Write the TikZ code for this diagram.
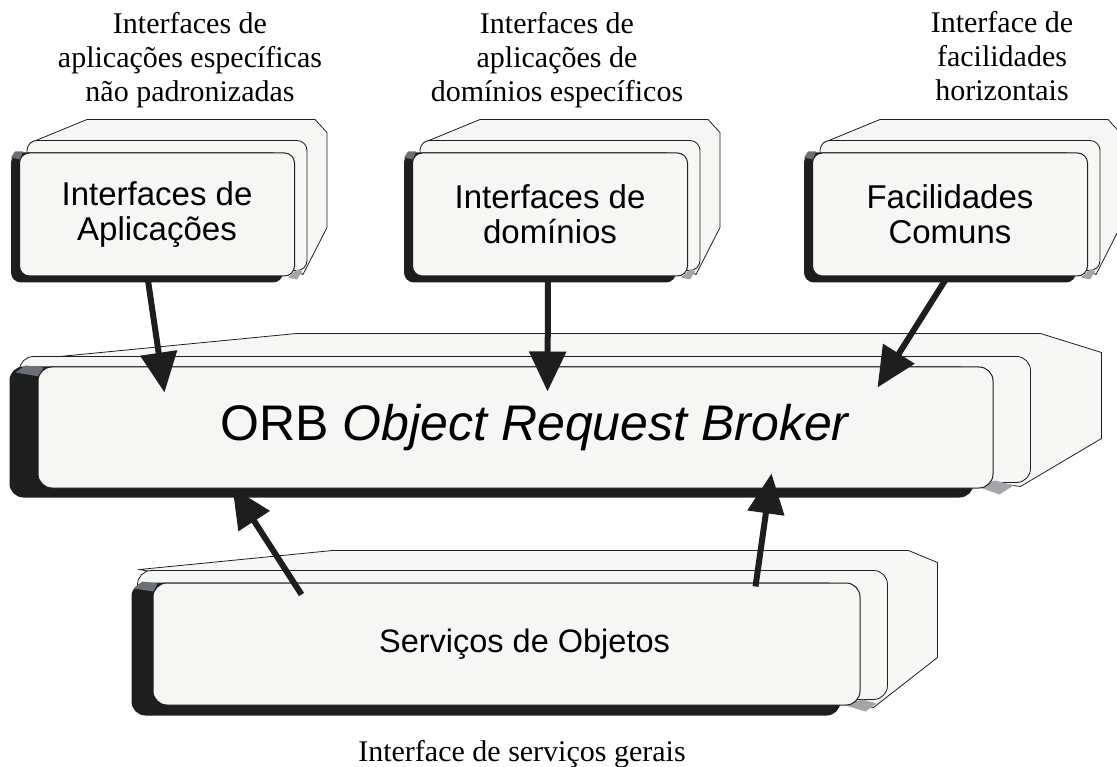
\documentclass[tikz,border=0pt]{standalone}
\usepackage{fontspec}
\setmainfont{Liberation Serif}
\setsansfont{Liberation Sans}
\usetikzlibrary{arrows.meta,calc,backgrounds}

\definecolor{boxfill}{HTML}{F6F6F4}
\definecolor{edgeink}{HTML}{1E1E1E}
\definecolor{cornergray}{HTML}{6B7076}
\definecolor{cornerlight}{HTML}{A3A5AB}

\tikzset{
  stackface/.style  = {draw=edgeink, fill=boxfill, line width=1pt, rounded corners=10pt,
                       inner sep=0pt, minimum width=275pt, minimum height=123pt, align=center,
                       font=\sffamily\fontsize{33}{35}\selectfont},
  stacklayer/.style = {draw=edgeink, fill=boxfill, line width=0.8pt},
  darkedge/.style   = {fill=edgeink},
  boxtext/.style    = {inner sep=0pt, align=center, font=\sffamily\fontsize{32.5}{35}\selectfont},
  tag/.style        = {inner sep=0pt, align=center, font=\fontsize{30}{34}\selectfont},
  pointer/.style    = {draw=edgeink, line width=6pt, -{Triangle[length=40pt,width=36pt]}}
}

\begin{document}
\begin{tikzpicture}[x=1pt, y=-1pt]
\useasboundingbox (0,0) rectangle (1117,767);

% texts above and below the boxes
\node[tag] (t-app) at (190,60) {Interfaces de\\aplicações específicas\\não padronizadas};
\node[tag] (t-dom) at (557,60) {Interfaces de\\aplicações de\\domínios específicos};
\node[tag] (t-fac) at (1002,56) {Interface de\\facilidades\\horizontais};
\node[tag, anchor=base] (t-srv) at (522,761) {Interface de serviços gerais};

% the front faces
\node[stackface] (app) at (157,214.5) {Interfaces de\\Aplicações};
\node[stackface] (dom) at (550,214.5) {Interfaces de\\domínios};
\node[stackface] (fac) at (950,214.5) {Facilidades\\Comuns};

\node[stackface, minimum width=955pt, minimum height=121pt, rounded corners=14pt] (orb) at (515.5,427.5) {};
\node[boxtext, font=\sffamily\fontsize{50}{55}\selectfont] (orb-txt) at ($(orb.center)+(20,0)$)
  {ORB \textit{Object Request Broker}};

\node[stackface, minimum width=707pt, minimum height=122pt, rounded corners=14pt] (srv) at (506.5,644) {};
\node[boxtext] (srv-txt) at ($(srv.center)+(18,0)$) {Serviços de Objetos};

% the layers behind each face
\begin{scope}[on background layer]
\foreach \bx in {app,dom,fac}{
  \filldraw[stacklayer] ($(\bx.north west)+(12,-10)$) -- ($(\bx.north west)+(68,-33)$)
    -- ($(\bx.north east)+(20,-33)$) -- ($(\bx.north east)+(32,-20)$)
    -- ($(\bx.south east)+(32,-49)$) -- ($(\bx.south east)+(8,-2)$) -- cycle;
  \filldraw[stacklayer, rounded corners=10pt] ($(\bx.north west)+(8,-12)$) rectangle ($(\bx.south east)+(12,-6)$);
  \fill[darkedge, rounded corners=10pt] ($(\bx.south west)+(-8,6)$) rectangle ($(\bx.north east)+(-12,0)$);
  \fill[cornergray] ($(\bx.north west)+(-8,5)$) -- ($(\bx.north west)+(-4,-1)$)
    -- ($(\bx.north west)+(4,-1)$) -- ($(\bx.north west)+(1,7)$) -- cycle;
  \fill[cornerlight] ($(\bx.south east)+(-7,1)$) -- ($(\bx.south east)+(2,-7)$)
    -- ($(\bx.south east)+(7,-5)$) -- ($(\bx.south east)+(2,3)$) -- cycle;
}

\filldraw[stacklayer] ($(orb.north west)+(22,-10)$) -- ($(orb.north west)+(259,-33)$)
  -- ($(orb.north east)+(47,-33)$) -- ($(orb.north east)+(108,-14)$)
  -- ($(orb.south east)+(108,-50)$) -- ($(orb.south east)+(27,-2)$) -- cycle;
\filldraw[stacklayer, rounded corners=14pt] ($(orb.north west)+(-18,-10)$) rectangle ($(orb.south east)+(37,-6)$);
\fill[darkedge, rounded corners=14pt] ($(orb.south west)+(-28,9)$) rectangle ($(orb.north east)+(-20,0)$);
\fill[cornergray] ($(orb.north west)+(-22,6)$) -- ($(orb.north west)+(-12,-1)$)
  -- ($(orb.north west)+(6,1)$) -- ($(orb.north west)+(2,10)$) -- cycle;
\fill[cornerlight] ($(orb.south east)+(-22,-4)$) -- ($(orb.south east)+(2,-8)$)
  -- ($(orb.south east)+(20,-3)$) -- ($(orb.south east)+(6,6)$) -- cycle;

\filldraw[stacklayer] ($(srv.north west)+(-13,-13)$) -- ($(srv.north west)+(180,-32)$)
  -- ($(srv.north east)+(48,-32)$) -- ($(srv.north east)+(77,-20)$)
  -- ($(srv.south east)+(77,-48)$) -- ($(srv.south east)+(13,2)$) -- cycle;
\filldraw[stacklayer, rounded corners=14pt] ($(srv.north west)+(-15,-12)$) rectangle ($(srv.south east)+(27,-6)$);
\fill[darkedge, rounded corners=14pt] ($(srv.south west)+(-21,10)$) rectangle ($(srv.north east)+(-20,0)$);
\fill[cornergray] ($(srv.north west)+(-19,6)$) -- ($(srv.north west)+(-10,-1)$)
  -- ($(srv.north west)+(5,1)$) -- ($(srv.north west)+(1,9)$) -- cycle;
\fill[cornerlight] ($(srv.south east)+(-18,-1)$) -- ($(srv.south east)+(2,-6)$)
  -- ($(srv.south east)+(16,-2)$) -- ($(srv.south east)+(5,6)$) -- cycle;
\end{scope}

% arrows
\draw[pointer] ($(app.south)+(-9,4)$) -- ($(orb.north west)+(127,26)$);
\draw[pointer] ($(dom.south)+(-2,4)$) -- ($(orb.north west)+(510,25)$);
\draw[pointer] ($(fac.south)+(-5,4)$) -- ($(orb.north west)+(840,21)$);
\draw[pointer] ($(srv.north west)+(149,12)$) -- ($(orb.south west)+(195,-1)$);
\draw[pointer] ($(srv.north west)+(603,4)$) -- ($(orb.south west)+(734,-15)$);

\end{tikzpicture}
\end{document}
